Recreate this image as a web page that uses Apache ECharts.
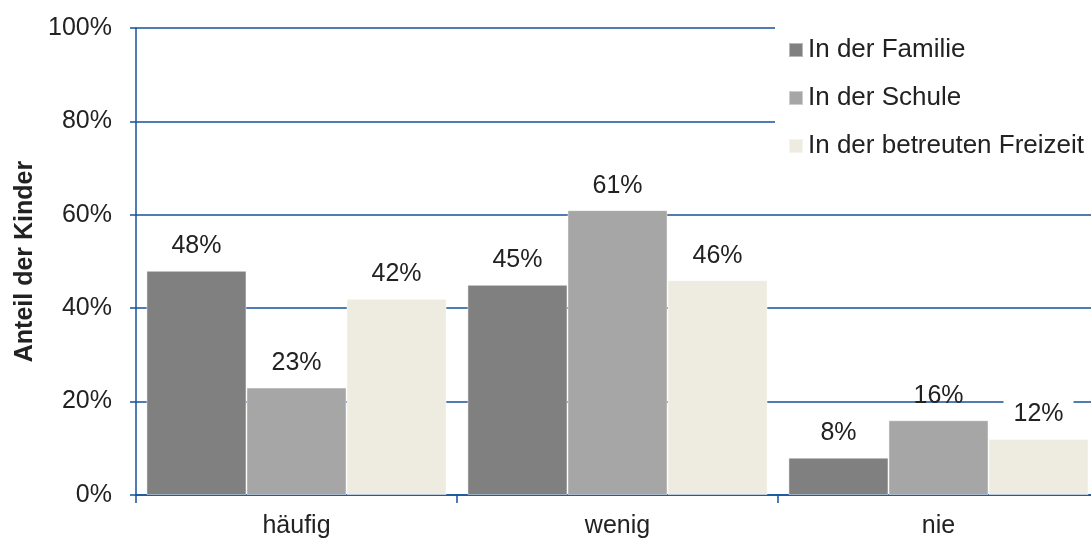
<!DOCTYPE html>
<html>
<head>
<meta charset="utf-8">
<script src="https://cdn.jsdelivr.net/npm/echarts@6/dist/echarts.min.js"></script>
<style>
  html, body { margin: 0; padding: 0; background: #fff; }
  #chart { width: 1091px; height: 540px; }
</style>
</head>
<body>
<div id="chart"></div>
<script>
// Häufigkeit nach Lebensbereich (Anteil der Kinder, in %)
const categories = ['häufig', 'wenig', 'nie'];
const familie = [48, 45, 8];
const schule = [23, 61, 16];
const freizeit = [42, 46, 12];
const seriesNames = ['In der Familie', 'In der Schule', 'In der betreuten Freizeit'];
const yTicks = [0, 20, 40, 60, 80, 100];

const blue = '#15509A';
const font = 'Liberation Sans, Arial, sans-serif';

const chart = echarts.init(document.getElementById('chart'));

function barSeries(name, data, color, maskLast) {
  return {
    name: name,
    type: 'bar',
    data: data.map((v, i) => {
      const item = { value: v };
      if (maskLast && i === data.length - 1) {
        // white box behind the last label, hiding the grid line above it
        item.label = { backgroundColor: '#fff', padding: [5, 10, 0, 10], distance: 12 };
      }
      return item;
    }),
    barGap: '0%',
    barCategoryGap: '6.5%',
    itemStyle: { color: color, borderColor: 'rgba(255,255,255,0.45)', borderWidth: 1 },
    label: {
      show: true,
      position: 'top',
      distance: 12,
      formatter: '{c}%',
      fontFamily: font,
      fontSize: 25,
      color: '#222'
    }
  };
}

chart.setOption({
  animation: false,
  backgroundColor: '#fff',
  // the plot runs a little past the right edge of the canvas
  grid: { left: 136, width: 963, top: 28, bottom: 45, containLabel: false, outerBoundsMode: 'none' },
  legend: {
    orient: 'vertical',
    left: 775,
    top: 27,
    padding: [10, 20, 14, 13],
    backgroundColor: '#fff',
    itemWidth: 14,
    itemHeight: 14,
    itemGap: 22,
    icon: 'rect',
    textStyle: { fontFamily: font, fontSize: 26, color: '#222' },
    data: seriesNames
  },
  xAxis: {
    type: 'category',
    data: categories,
    axisLine: { lineStyle: { color: blue, width: 1.5 } },
    axisTick: { show: true, length: 8, lineStyle: { color: blue, width: 1.5 } },
    axisLabel: { fontFamily: font, fontSize: 25, color: '#222', margin: 19 }
  },
  yAxis: {
    type: 'value',
    min: 0,
    max: 100,
    interval: 20,
    name: 'Anteil der Kinder',
    nameLocation: 'middle',
    nameRotate: 90,
    nameGap: 90,
    nameTextStyle: { fontFamily: font, fontSize: 25, fontWeight: 'bold', color: '#222' },
    axisLine: { show: true, lineStyle: { color: blue, width: 1.5 } },
    axisTick: { show: true, length: 6, lineStyle: { color: blue, width: 1.5 } },
    axisLabel: {
      fontFamily: font, fontSize: 25, color: '#222', margin: 24,
      formatter: v => (yTicks.includes(v) ? v + '%' : '')
    },
    splitLine: { show: true, lineStyle: { color: blue, width: 1.5 } }
  },
  series: [
    barSeries(seriesNames[0], familie, '#808080', false),
    barSeries(seriesNames[1], schule, '#A6A6A6', false),
    barSeries(seriesNames[2], freizeit, '#EEECE1', true)
  ]
});
</script>
</body>
</html>
